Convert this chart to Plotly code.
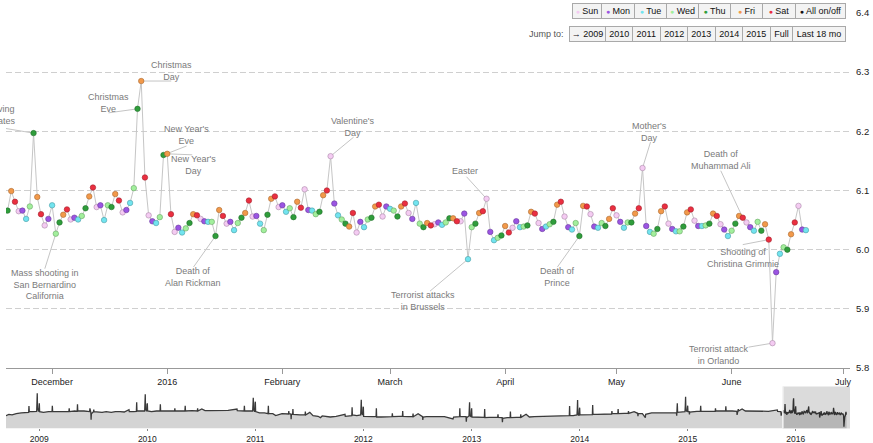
import plotly.graph_objects as go
import pandas as pd

# ------------------------------------------------------------------ data
MAIN_START = "2015-11-19"
MAIN_VALUES = [
    # Nov 19-30 2015
    6.066, 6.099, 6.081, 6.065, 6.066, 6.052, 6.073, 6.197, 6.089, 6.060, 6.041, 6.052,
    # Dec 2015
    6.075, 6.027, 6.046, 6.059, 6.068, 6.051, 6.054, 6.051, 6.057, 6.070, 6.090, 6.105,
    6.072, 6.075, 6.050, 6.075, 6.072, 6.094, 6.083, 6.063, 6.067, 6.079, 6.104, 6.238,
    6.285, 6.122, 6.058, 6.048, 6.045, 6.055, 6.160,
    # Jan 2016
    6.162, 6.060, 6.030, 6.037, 6.029, 6.036, 6.045, 6.060, 6.058, 6.052, 6.048, 6.047,
    6.047, 6.023, 6.067, 6.057, 6.044, 6.047, 6.033, 6.045, 6.054, 6.062, 6.083, 6.056,
    6.057, 6.044, 6.033, 6.059, 6.086, 6.090, 6.072,
    # Feb 2016
    6.075, 6.064, 6.070, 6.055, 6.081, 6.071, 6.102, 6.067, 6.066, 6.060, 6.064, 6.092,
    6.100, 6.158, 6.078, 6.058, 6.051, 6.044, 6.039, 6.062, 6.029, 6.047, 6.038, 6.051,
    6.054, 6.073, 6.076, 6.056, 6.073,
    # Mar 2016
    6.069, 6.066, 6.056, 6.073, 6.078, 6.062, 6.052, 6.079, 6.044, 6.038, 6.045, 6.041,
    6.043, 6.046, 6.042, 6.046, 6.053, 6.053, 6.048, 6.048, 6.061, 5.984, 6.038, 6.044,
    6.062, 6.065, 6.086, 6.030, 6.016, 6.020, 6.024,
    # Apr 2016
    6.040, 6.029, 6.037, 6.048, 6.038, 6.039, 6.041, 6.064, 6.061, 6.045, 6.035, 6.039,
    6.043, 6.047, 6.076, 6.081, 6.056, 6.038, 6.034, 6.045, 6.023, 6.074, 6.073, 6.060,
    6.039, 6.037, 6.045, 6.040, 6.052, 6.070,
    # May 2016
    6.058, 6.047, 6.037, 6.046, 6.046, 6.061, 6.070, 6.138, 6.040, 6.030, 6.027, 6.035,
    6.065, 6.073, 6.044, 6.035, 6.031, 6.031, 6.039, 6.063, 6.068, 6.049, 6.040, 6.040,
    6.041, 6.044, 6.061, 6.057, 6.043, 6.034, 6.023,
    # Jun 1-21 2016
    6.032, 6.044, 6.057, 6.054, 6.046, 6.038, 6.032, 6.047, 6.032, 6.043, 6.017, 5.842,
    5.962, 5.993, 6.004, 6.000, 6.026, 6.046, 6.074, 6.034, 6.033,
]

DAY_NAMES = ["Sun", "Mon", "Tue", "Wed", "Thu", "Fri", "Sat"]

MONTH_TICKS = ["2015-12-01", "2016-01-01", "2016-02-01", "2016-03-01",
               "2016-04-01", "2016-05-01", "2016-06-01", "2016-07-01"]
MONTH_LABELS = ["December", "2016", "February", "March", "April", "May", "June", "July"]
Y_TICKS = [5.8, 5.9, 6.0, 6.1, 6.2, 6.3, 6.4]

OV_DATES = [
    "2008-09-10", "2008-09-20", "2008-10-01", "2008-10-15", "2008-11-01", "2008-11-15",
    "2008-11-26", "2008-11-27", "2008-11-28", "2008-12-10", "2008-12-20", "2008-12-23",
    "2008-12-24", "2008-12-25", "2008-12-26", "2008-12-30", "2008-12-31",
    "2009-01-01", "2009-01-02", "2009-01-15", "2009-02-01", "2009-02-13", "2009-02-14",
    "2009-02-15", "2009-03-01", "2009-03-15", "2009-04-11", "2009-04-12", "2009-04-13",
    "2009-05-01", "2009-05-09", "2009-05-10", "2009-05-11", "2009-06-01", "2009-06-20",
    "2009-06-21", "2009-06-24", "2009-06-25", "2009-06-26", "2009-07-03", "2009-07-04",
    "2009-07-05", "2009-08-01", "2009-08-15", "2009-09-01", "2009-09-15", "2009-10-01",
    "2009-10-15", "2009-10-31", "2009-11-01", "2009-11-15", "2009-11-25", "2009-11-26",
    "2009-11-27", "2009-12-10", "2009-12-23", "2009-12-24", "2009-12-25", "2009-12-26",
    "2009-12-30", "2009-12-31",
    "2010-01-01", "2010-01-02", "2010-01-15", "2010-02-01", "2010-02-13", "2010-02-14",
    "2010-02-15", "2010-03-01", "2010-04-03", "2010-04-04", "2010-04-05", "2010-05-08",
    "2010-05-09", "2010-05-10", "2010-06-01", "2010-06-19", "2010-06-20", "2010-06-21",
    "2010-07-04", "2010-07-15", "2010-08-01", "2010-09-01", "2010-10-01", "2010-10-31",
    "2010-11-01", "2010-11-24", "2010-11-25", "2010-11-26", "2010-12-10", "2010-12-23",
    "2010-12-24", "2010-12-25", "2010-12-26", "2010-12-30", "2010-12-31",
    "2011-01-01", "2011-01-02", "2011-01-15", "2011-02-01", "2011-02-13", "2011-02-14",
    "2011-02-15", "2011-03-01", "2011-03-11", "2011-04-01", "2011-04-23", "2011-04-24",
    "2011-04-25", "2011-05-01", "2011-05-02", "2011-05-03", "2011-05-07", "2011-05-08",
    "2011-05-09", "2011-06-01", "2011-06-18", "2011-06-19", "2011-06-20", "2011-07-04",
    "2011-07-15", "2011-08-01", "2011-08-09", "2011-08-15", "2011-09-01", "2011-09-11",
    "2011-10-01", "2011-10-31", "2011-11-01", "2011-11-23", "2011-11-24", "2011-11-25",
    "2011-12-10", "2011-12-23", "2011-12-24", "2011-12-25", "2011-12-26", "2011-12-30",
    "2011-12-31",
    "2012-01-01", "2012-01-02", "2012-01-15", "2012-02-01", "2012-02-13", "2012-02-14",
    "2012-02-15", "2012-03-01", "2012-04-07", "2012-04-08", "2012-04-09", "2012-05-01",
    "2012-05-12", "2012-05-13", "2012-05-14", "2012-06-01", "2012-06-16", "2012-06-17",
    "2012-06-18", "2012-07-04", "2012-07-19", "2012-07-20", "2012-07-21", "2012-08-01",
    "2012-09-01", "2012-10-01", "2012-10-30", "2012-11-01", "2012-11-21", "2012-11-22",
    "2012-11-23", "2012-12-13", "2012-12-14", "2012-12-15", "2012-12-23", "2012-12-24",
    "2012-12-25", "2012-12-26", "2012-12-30", "2012-12-31",
    "2013-01-01", "2013-01-02", "2013-01-15", "2013-02-01", "2013-02-13", "2013-02-14",
    "2013-02-15", "2013-03-01", "2013-03-30", "2013-03-31", "2013-04-01", "2013-04-14",
    "2013-04-15", "2013-04-16", "2013-05-01", "2013-05-11", "2013-05-12", "2013-05-13",
    "2013-06-01", "2013-06-15", "2013-06-16", "2013-06-17", "2013-07-04", "2013-07-15",
    "2013-08-01", "2013-09-01", "2013-10-01", "2013-11-01", "2013-11-27", "2013-11-28",
    "2013-11-29", "2013-12-10", "2013-12-23", "2013-12-24", "2013-12-25", "2013-12-26",
    "2013-12-30", "2013-12-31",
    "2014-01-01", "2014-01-02", "2014-01-15", "2014-02-01", "2014-02-13", "2014-02-14",
    "2014-02-15", "2014-03-01", "2014-04-01", "2014-04-19", "2014-04-20", "2014-04-21",
    "2014-05-01", "2014-05-10", "2014-05-11", "2014-05-12", "2014-06-01", "2014-06-14",
    "2014-06-15", "2014-06-16", "2014-07-04", "2014-07-16", "2014-07-17", "2014-07-18",
    "2014-08-01", "2014-08-11", "2014-08-12", "2014-09-01", "2014-10-01", "2014-11-01",
    "2014-11-24", "2014-11-25", "2014-11-26", "2014-11-27", "2014-11-28", "2014-12-10",
    "2014-12-23", "2014-12-24", "2014-12-25", "2014-12-26", "2014-12-30", "2014-12-31",
    "2015-01-01", "2015-01-02", "2015-01-06", "2015-01-07", "2015-01-08", "2015-02-01",
    "2015-02-13", "2015-02-14", "2015-02-15", "2015-03-01", "2015-04-04", "2015-04-05",
    "2015-04-06", "2015-05-01", "2015-05-09", "2015-05-10", "2015-05-11", "2015-06-01",
    "2015-06-16", "2015-06-17", "2015-06-18", "2015-06-21", "2015-06-22", "2015-07-04",
    "2015-07-15", "2015-08-01", "2015-09-01", "2015-10-01", "2015-10-31", "2015-11-01",
    "2015-11-12", "2015-11-13", "2015-11-14", "2015-11-18",
]
OV_VALUES = [
    6.014, 6.035, 6.025, 6.045, 6.056, 6.066,
    6.066, 6.165, 6.077, 6.077, 6.087, 6.082,
    6.207, 6.363, 6.129, 6.077, 6.181,
    6.207, 6.077, 6.066, 6.077, 6.077, 6.170,
    6.077, 6.077, 6.082, 6.082, 6.129, 6.077,
    6.087, 6.082, 6.191, 6.087, 6.087, 6.077,
    6.129, 6.066, 5.952, 6.045, 6.077, 6.108,
    6.077, 6.066, 6.077, 6.066, 6.077, 6.077,
    6.071, 6.108, 6.077, 6.077, 6.082, 6.222,
    6.087, 6.087, 6.087, 6.207, 6.348, 6.118,
    6.082, 6.191,
    6.207, 6.087, 6.077, 6.087, 6.087, 6.191,
    6.087, 6.087, 6.087, 6.129, 6.087, 6.087,
    6.170, 6.087, 6.092, 6.087, 6.129, 6.087,
    6.118, 6.092, 6.092, 6.097, 6.097, 6.118,
    6.092, 6.087, 6.170, 6.087, 6.087, 6.087,
    6.181, 6.295, 6.118, 6.077, 6.207,
    6.233, 6.077, 6.056, 6.056, 6.045, 6.170,
    6.045, 6.045, 6.014, 6.045, 6.040, 6.087,
    6.045, 6.040, 5.957, 6.035, 6.035, 6.118,
    6.035, 6.025, 6.025, 6.077, 6.025, 6.066,
    6.014, 6.004, 5.983, 6.009, 5.998, 5.993,
    6.004, 6.035, 6.004, 6.014, 6.144, 6.025,
    6.014, 6.025, 6.129, 6.264, 6.051, 6.025,
    6.139,
    6.155, 6.004, 5.998, 5.998, 5.998, 6.129,
    5.993, 5.993, 5.998, 6.051, 5.998, 6.004,
    6.004, 6.087, 6.004, 5.998, 5.998, 6.045,
    5.998, 6.045, 5.998, 5.946, 5.993, 5.998,
    5.993, 5.998, 5.962, 5.993, 5.998, 6.129,
    6.004, 5.998, 5.920, 5.983, 6.009, 6.103,
    6.222, 6.014, 5.998, 6.077,
    6.129, 5.993, 5.988, 5.988, 5.988, 6.118,
    5.983, 5.988, 5.988, 6.035, 5.988, 5.983,
    5.910, 5.972, 5.983, 5.983, 6.077, 5.983,
    5.988, 5.988, 6.035, 5.988, 6.035, 5.993,
    5.998, 6.004, 6.004, 6.009, 6.014, 6.165,
    6.014, 6.014, 6.025, 6.118, 6.259, 6.035,
    6.014, 6.103,
    6.139, 6.025, 6.025, 6.030, 6.030, 6.181,
    6.035, 6.035, 6.045, 6.040, 6.087, 6.045,
    6.045, 6.045, 6.118, 6.045, 6.051, 6.051,
    6.087, 6.051, 6.077, 6.051, 6.004, 6.045,
    6.045, 5.983, 6.035, 6.056, 6.056, 6.061,
    6.056, 6.014, 6.056, 6.207, 6.066, 6.077,
    6.077, 6.170, 6.311, 6.097, 6.077, 6.129,
    6.170, 6.077, 6.077, 6.035, 6.071, 6.082,
    6.082, 6.170, 6.082, 6.082, 6.082, 6.129,
    6.087, 6.087, 6.087, 6.160, 6.087, 6.087,
    6.082, 6.025, 6.066, 6.118, 6.087, 6.118,
    6.087, 6.087, 6.087, 6.082, 6.103, 6.082,
    6.077, 6.014, 6.035, 6.071,
]
YEAR_TICKS = ["2009-01-01", "2010-01-01", "2011-01-01", "2012-01-01",
              "2013-01-01", "2014-01-01", "2015-01-01", "2016-01-01"]
YEAR_LABELS = ["2009", "2010", "2011", "2012", "2013", "2014", "2015", "2016"]

EVENT_DATES = ["2015-11-26", "2015-12-24", "2015-12-25", "2015-12-31", "2016-01-01",
               "2015-12-02", "2016-01-14", "2016-02-14", "2016-03-27", "2016-03-22",
               "2016-04-21", "2016-05-08", "2016-06-04", "2016-06-11", "2016-06-12"]
EVENT_TEXTS = ["Thanksgiving<br>United States", "Christmas<br>Eve", "Christmas<br>Day",
               "New Year's<br>Eve", "New Year's<br>Day",
               "Mass shooting in<br>San Bernardino<br>California", "Death of<br>Alan Rickman",
               "Valentine's<br>Day", "Easter", "Terrorist attacks<br>in Brussels",
               "Death of<br>Prince", "Mother's<br>Day", "Death of<br>Muhammad Ali",
               "Shooting of<br>Christina Grimmie", "Terrorist attack<br>in Orlando"]

JUMP_LABELS = ["→ 2009", "2010", "2011", "2012", "2013", "2014", "2015", "Full", "Last 18 mo"]
TOGGLE_LABELS = DAY_NAMES + ["All on/off"]

# ------------------------------------------------------------------ style / layout
W, H = 873, 443
FONT = "Liberation Sans, Arial, Helvetica, sans-serif"
DAY_COLORS = ["#f4cbf2", "#9b55e2", "#72e4ef", "#a2ef9c", "#2f9d3b", "#f2994a", "#ea2f40"]
DAY_EDGES = ["#a98aa8", "#6a3a9c", "#4a9ca4", "#6aa566", "#226e2a", "#aa6a33", "#a3222d"]
# event label layout: (text centre dx, dy) and (connector end dx, dy), screen px from point
EVENT_TEXT_OFF = [(-45, -18), (-29, -6), (30, -10), (23, -20), (26, 11), (-11, 51),
                  (-22, 41), (22, -29), (-22, -28), (-45, 42), (-22, 41), (7, -36),
                  (-22, -58), (-26, 18), (-53, 12)]
EVENT_LINE_OFF = [(-36, -6), (-29, 4), (30, 0), (23, -9), (25, 1), (-11, 35),
                  (-22, 31), (23, -19), (-20, -22), (-38, 32), (-22, 31), (8, -26),
                  (-22, -47), (-26, 5), (-24, 4)]
ROW1_EDGES = [572.5, 601.5, 634.5, 666.5, 698.5, 730.5, 762.5, 795.5, 845.5]
ROW2_EDGES = [569.5, 605.5, 633, 660.5, 688, 715.5, 743, 770.5, 792.5, 845.5]

MAIN_RANGE = ["2015-11-18 14:00", "2016-07-02 21:00"]
OV_RANGE = ["2008-09-10 09:36", "2016-07-02 14:00"]


def fx(p):
    return p / W


def fy(p):
    return 1 - p / H


main_dates = pd.date_range(MAIN_START, periods=len(MAIN_VALUES), freq="D")
dow = (main_dates.dayofweek + 1) % 7  # 0 = Sunday
value_by_date = dict(zip(main_dates.strftime("%Y-%m-%d"), MAIN_VALUES))

fig = go.Figure()
fig.add_trace(go.Scatter(x=main_dates, y=MAIN_VALUES, mode="lines",
                         line=dict(color="#c6c6c6", width=1), hoverinfo="skip",
                         showlegend=False))
for i, name in enumerate(DAY_NAMES):
    idx = [k for k in range(len(MAIN_VALUES)) if dow[k] == i]
    fig.add_trace(go.Scatter(
        x=main_dates[idx], y=[MAIN_VALUES[k] for k in idx], mode="markers", name=name,
        marker=dict(size=5.5, color=DAY_COLORS[i], line=dict(width=0.6, color=DAY_EDGES[i])),
        showlegend=False))

ov_x = list(pd.to_datetime(OV_DATES)) + list(main_dates)
ov_y = OV_VALUES + MAIN_VALUES
fig.add_trace(go.Scatter(x=ov_x, y=ov_y, xaxis="x2", yaxis="y2", mode="lines",
                         line=dict(color="#3a3a3a", width=1.3), fill="tozeroy",
                         fillcolor="#d4d4d4", hoverinfo="skip", showlegend=False))

shapes = []
annotations = []
for d, t, (tx, ty), (lx, ly) in zip(EVENT_DATES, EVENT_TEXTS, EVENT_TEXT_OFF, EVENT_LINE_OFF):
    v = value_by_date[d]
    shapes.append(dict(type="line", xref="x", yref="y", xsizemode="pixel", ysizemode="pixel",
                       xanchor=d, yanchor=v, x0=0, y0=0, x1=lx, y1=-ly,
                       line=dict(color="#b5b5b5", width=0.8), layer="below"))
    annotations.append(dict(x=d, y=v, xref="x", yref="y", text=t, showarrow=False,
                            xshift=tx, yshift=-ty, xanchor="center", yanchor="middle",
                            align="center", font=dict(family=FONT, size=9, color="#7a7a7a")))

# brush on overview
shapes.append(dict(type="rect", xref="x2", yref="paper", x0=MAIN_RANGE[0], x1=MAIN_RANGE[1],
                   y0=fy(428.5), y1=fy(386.5), fillcolor="rgba(0,0,0,0.14)",
                   line=dict(width=0), layer="above"))
shapes.append(dict(type="line", xref="x2", yref="paper", x0=MAIN_RANGE[0], x1=MAIN_RANGE[0],
                   y0=fy(428.5), y1=fy(386.5), line=dict(color="#f4f4f4", width=1.5),
                   layer="above"))


# button bars (drawn as boxed labels)
def button(label, l, r, cy, color=None):
    txt = label
    if color is not None:
        txt = '<span style="color:%s;font-size:7px">●</span> %s' % (color, label)
    return dict(x=fx((l + r) / 2), y=fy(cy), xref="paper", yref="paper", text=txt,
                showarrow=False, xanchor="center", yanchor="middle", width=r - l - 3,
                height=12, bgcolor="#f3f3f3", bordercolor="#a9a9a9", borderwidth=1,
                borderpad=1, font=dict(family=FONT, size=9, color="#111"))


row1_colors = DAY_COLORS + ["#111111"]
for k, lab in enumerate(TOGGLE_LABELS):
    annotations.append(button(lab, ROW1_EDGES[k], ROW1_EDGES[k + 1], 11.5, row1_colors[k]))
for k, lab in enumerate(JUMP_LABELS):
    annotations.append(button(lab, ROW2_EDGES[k], ROW2_EDGES[k + 1], 34.5))
annotations.append(dict(x=fx(566), y=fy(34.5), xref="paper", yref="paper", text="Jump to:",
                        showarrow=False, xanchor="right", yanchor="middle",
                        font=dict(family=FONT, size=9, color="#555")))

fig.update_layout(
    width=W, height=H, margin=dict(l=0, r=0, t=0, b=0, autoexpand=False),
    paper_bgcolor="white", plot_bgcolor="white", showlegend=False,
    font=dict(family=FONT, size=9, color="#222"),
    xaxis=dict(domain=[fx(6), fx(850)], range=MAIN_RANGE, type="date", automargin=False,
               tickmode="array", tickvals=MONTH_TICKS, ticktext=MONTH_LABELS,
               ticks="outside", ticklen=5, tickcolor="#999", showline=True,
               linecolor="#999", linewidth=1, showgrid=False, zeroline=False,
               tickfont=dict(family=FONT, size=9, color="#222"), anchor="y"),
    yaxis=dict(domain=[fy(368), fy(13)], range=[5.8, 6.4], side="right", automargin=False,
               tickmode="array", tickvals=Y_TICKS, ticktext=["%.1f" % t for t in Y_TICKS],
               showgrid=True, gridcolor="#cfcfcf", griddash="6px,3px", gridwidth=1,
               zeroline=False, showline=False, ticks="", ticklabelstandoff=5,
               tickfont=dict(family=FONT, size=9.5, color="#222"), anchor="x"),
    xaxis2=dict(domain=[fx(6), fx(850)], range=OV_RANGE, type="date", anchor="y2",
                automargin=False, tickmode="array", tickvals=YEAR_TICKS, ticktext=YEAR_LABELS,
                ticks="outside", ticklen=2, tickcolor="#888", showline=False,
                showgrid=False, zeroline=False,
                tickfont=dict(family=FONT, size=8.5, color="#222")),
    yaxis2=dict(domain=[fy(428.3), fy(388)], range=[5.816, 6.447], anchor="x2",
                automargin=False, showticklabels=False, showgrid=False, zeroline=False,
                ticks=""),
    shapes=shapes, annotations=annotations,
)

fig.write_html("out.html", config={"displayModeBar": False},
               post_script="document.body.style.margin='0';document.body.style.overflow='hidden';")
